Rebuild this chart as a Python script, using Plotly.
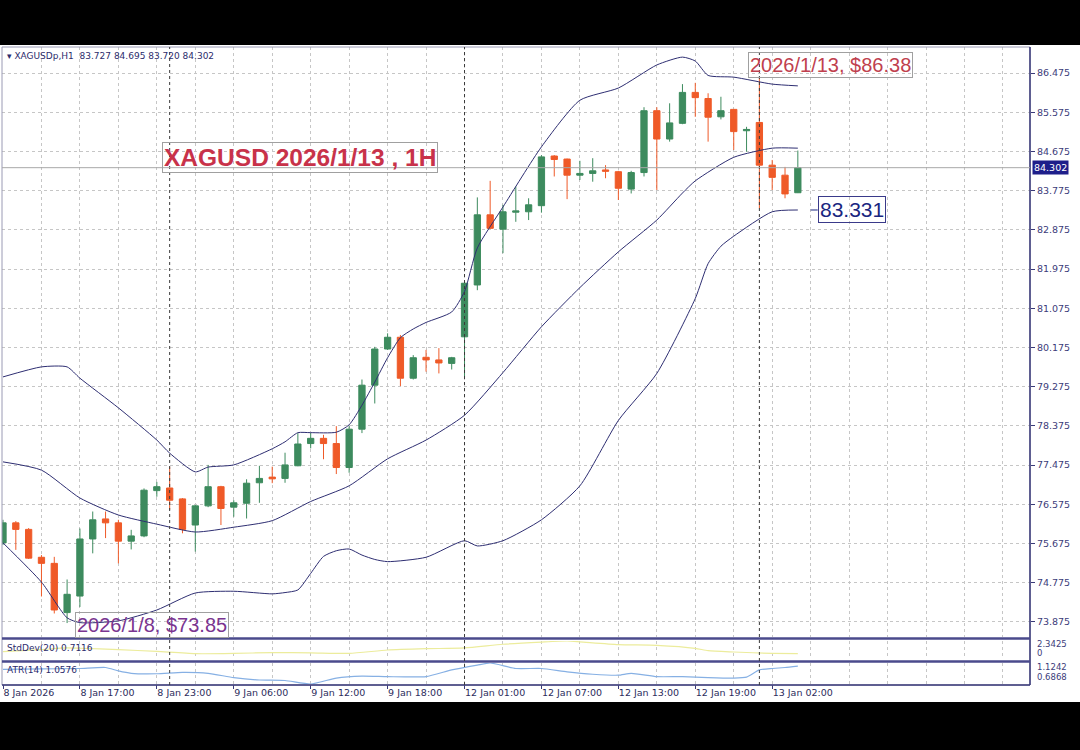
import plotly.graph_objects as go

# ---------------- data ----------------
bar_index = list(range(63))
open_ = [75.69, 76.15, 76.00, 75.36, 75.22, 74.09, 74.47, 75.78, 76.24, 76.15,
         75.73, 75.85, 76.89, 76.95, 76.70, 76.10, 76.54, 76.98, 76.51, 76.60,
         77.07, 77.20, 77.17, 77.46, 77.97, 78.09, 77.97, 77.42, 78.30, 79.31,
         80.14, 80.41, 79.47, 79.95, 79.89, 79.81, 80.42, 81.61, 83.22, 82.89,
         83.28, 83.29, 83.43, 84.57, 84.50, 84.13, 84.17, 84.25, 84.21, 83.81,
         84.19, 85.61, 84.96, 85.32, 86.03, 85.89, 85.47, 85.64, 85.15, 85.34,
         84.36, 84.13, 83.727]
high = [76.22, 76.19, 76.03, 75.41, 75.37, 74.85, 76.02, 76.41, 76.41, 76.22,
        75.99, 76.94, 77.09, 77.44, 76.72, 76.56, 77.48, 77.00, 76.67, 77.15,
        77.46, 77.44, 77.76, 78.21, 78.21, 78.17, 78.37, 78.37, 79.44, 80.19,
        80.50, 80.46, 80.00, 80.12, 80.16, 79.96, 81.66, 83.62, 84.00, 83.45,
        83.87, 83.60, 84.59, 84.59, 84.51, 84.46, 84.52, 84.36, 84.23, 84.23,
        85.69, 85.69, 85.78, 86.22, 86.25, 86.01, 85.93, 85.65, 85.24, 86.38,
        84.48, 84.32, 84.695]
low = [75.64, 75.53, 75.32, 74.46, 74.07, 73.85, 74.22, 75.45, 75.80, 75.22,
       75.54, 75.82, 76.75, 76.45, 75.91, 75.49, 76.51, 76.10, 76.29, 76.25,
       76.61, 77.06, 77.07, 77.45, 77.86, 77.61, 77.27, 77.30, 78.21, 78.89,
       80.12, 79.29, 79.44, 79.62, 79.58, 79.67, 79.50, 81.49, 82.90, 82.34,
       83.06, 83.10, 83.27, 84.10, 83.58, 84.02, 83.98, 84.06, 83.56, 83.71,
       84.10, 83.79, 84.90, 85.30, 85.47, 84.90, 85.41, 84.71, 84.67, 83.37,
       83.79, 83.60, 83.720]
close = [76.15, 76.00, 75.34, 75.22, 74.15, 74.51, 75.78, 76.22, 76.15, 75.73,
         75.85, 76.90, 76.98, 76.67, 76.00, 76.54, 76.98, 76.48, 76.61, 77.06,
         77.17, 77.16, 77.48, 77.96, 78.09, 77.97, 77.42, 78.30, 79.31, 80.14,
         80.41, 79.47, 79.94, 79.89, 79.82, 79.94, 81.65, 83.22, 82.91, 83.29,
         83.31, 83.45, 84.55, 84.49, 84.13, 84.17, 84.23, 84.22, 83.83, 84.19,
         85.61, 84.96, 85.33, 86.03, 85.91, 85.46, 85.61, 85.13, 85.18, 84.36,
         84.08, 83.70, 84.302]

upper_idx = [0, 3, 5, 6, 9, 12, 13, 15, 16, 18, 21, 22, 23, 24, 26, 27, 28, 29,
             30, 31, 32, 33, 35, 36, 37, 39, 42, 45, 48, 51, 53, 54, 55, 57, 60, 62]
upper_val = [79.50, 79.73, 79.73, 79.47, 78.79, 78.05, 77.75, 77.32, 77.43, 77.48,
             77.85, 78.01, 78.22, 78.22, 78.23, 78.40, 78.85, 79.38, 79.94, 80.40,
             80.60, 80.75, 80.99, 81.46, 82.46, 83.40, 84.78, 85.85, 86.13, 86.66,
             86.84, 86.75, 86.42, 86.38, 86.22, 86.18]
mid_idx = [0, 3, 6, 9, 12, 15, 18, 21, 24, 27, 30, 33, 36, 39, 42, 45, 48, 51,
           53, 54, 57, 60, 62]
mid_val = [77.55, 77.36, 76.72, 76.33, 76.12, 75.94, 76.05, 76.20, 76.64, 77.00,
           77.62, 78.05, 78.62, 79.60, 80.65, 81.55, 82.37, 83.10, 83.72, 84.00,
           84.54, 84.75, 84.75]
lower_idx = [0, 3, 5, 6, 9, 12, 15, 18, 21, 22, 23, 24, 25, 26, 27, 28, 29, 30,
             33, 36, 37, 39, 42, 45, 48, 51, 54, 55, 56, 57, 60, 62]
lower_val = [75.69, 74.79, 73.97, 73.86, 73.90, 74.15, 74.54, 74.58, 74.52, 74.55,
             74.61, 74.99, 75.38, 75.51, 75.55, 75.41, 75.31, 75.26, 75.36, 75.74,
             75.62, 75.74, 76.22, 77.00, 78.50, 79.58, 81.30, 82.10, 82.50, 82.73,
             83.29, 83.331]

std_idx = [0, 3, 5, 6, 9, 12, 15, 18, 21, 24, 27, 30, 33, 36, 39, 42, 44, 45, 48,
           51, 54, 55, 57, 60, 62]
std_val = [0.95, 1.23, 1.44, 1.40, 1.22, 0.98, 0.69, 0.72, 0.84, 0.81, 0.73, 1.17,
           1.34, 1.44, 1.92, 2.20, 2.3425, 2.24, 1.88, 1.78, 1.39, 1.08, 0.91, 0.73,
           0.7116]

atr_idx = [0, 3, 6, 8, 9, 10, 12, 14, 16, 18, 20, 22, 24, 26, 28, 30, 33, 35, 37,
           38, 40, 42, 44, 46, 48, 49, 51, 53, 55, 57, 58, 59, 60, 61, 62]
atr_val = [0.99, 1.00, 1.01, 1.03, 0.96, 0.91, 0.90, 0.93, 0.91, 0.82, 0.77, 0.76,
           0.6868, 0.81, 0.85, 0.84, 0.84, 0.98, 1.08, 1.1242, 1.01, 1.01, 0.94,
           0.89, 0.87, 0.91, 0.84, 0.84, 0.82, 0.81, 0.83, 0.98, 1.01, 1.03, 1.0576]

price_ticks = [73.875, 74.775, 75.675, 76.575, 77.475, 78.375, 79.275, 80.175,
               81.075, 81.975, 82.875, 83.775, 84.675, 85.575, 86.475]
time_tick_idx = [0, 6, 12, 18, 24, 30, 36, 42, 48, 54, 60]
time_tick_labels = ["8 Jan 2026", "8 Jan 17:00", "8 Jan 23:00", "9 Jan 06:00",
                    "9 Jan 12:00", "9 Jan 18:00", "12 Jan 01:00", "12 Jan 07:00",
                    "12 Jan 13:00", "12 Jan 19:00", "13 Jan 02:00"]
day_separator_idx = [13, 36, 59]
grid_idx = list(range(0, 81, 3))

last_price = 84.302
high_label_price = 86.38
low_label_price = 73.85
lower_band_last = 83.331

# ---------------- style ----------------
W, H = 1080, 750
BULL = "#3d8b5e"
BEAR = "#ef5a28"
BAND = "#2e2e72"
NAVY = "#3a3a78"
GRID = "#c6c6c6"
TXT_FONT = "DejaVu Sans"


def px(x):
    return x / W


def py(y):
    return 1 - y / H


fig = go.Figure()
fig.add_trace(go.Candlestick(
    x=bar_index, open=open_, high=high, low=low, close=close,
    increasing=dict(line=dict(color=BULL, width=1), fillcolor=BULL),
    decreasing=dict(line=dict(color=BEAR, width=1), fillcolor=BEAR),
    whiskerwidth=0, showlegend=False, hoverinfo="skip", xaxis="x", yaxis="y"))
for bi, bv in [(upper_idx, upper_val), (mid_idx, mid_val), (lower_idx, lower_val)]:
    fig.add_trace(go.Scatter(x=bi, y=bv, mode="lines",
                             line=dict(color=BAND, width=1, shape="spline", smoothing=0.6),
                             showlegend=False, hoverinfo="skip", xaxis="x", yaxis="y"))
fig.add_trace(go.Scatter(x=std_idx, y=std_val, mode="lines",
                         line=dict(color="#ecec9c", width=1.2, shape="spline", smoothing=0.6),
                         showlegend=False, hoverinfo="skip", xaxis="x2", yaxis="y2"))
fig.add_trace(go.Scatter(x=atr_idx, y=atr_val, mode="lines",
                         line=dict(color="#86b0e4", width=1.2, shape="spline", smoothing=0.5),
                         showlegend=False, hoverinfo="skip", xaxis="x3", yaxis="y3"))

XR = [(2 - 3) / 12.82, (1030 - 3) / 12.82]
xdom = [px(2), px(1030)]
gridx = dict(showgrid=True, gridcolor=GRID, griddash="3px,3px", gridwidth=1,
             zeroline=False, showline=False, automargin=False)

fig.update_layout(
    width=W, height=H, margin=dict(l=0, r=0, t=0, b=0),
    paper_bgcolor="white", plot_bgcolor="white", showlegend=False,
    font=dict(family=TXT_FONT, size=10, color=NAVY),
    xaxis=dict(domain=xdom, range=XR, anchor="y", tickmode="array", tickvals=grid_idx,
               showticklabels=False, ticks="", rangeslider=dict(visible=False), **gridx),
    xaxis2=dict(domain=xdom, range=XR, anchor="y2", matches="x", tickmode="array",
                tickvals=grid_idx, showticklabels=False, ticks="", **gridx),
    xaxis3=dict(domain=xdom, range=XR, anchor="y3", matches="x", tickmode="array",
                tickvals=time_tick_idx, ticktext=time_tick_labels, ticks="outside",
                ticklen=4, tickcolor=NAVY, ticklabelposition="outside right",
                tickfont=dict(family=TXT_FONT, size=9.5, color="#2c2c5c"),
                minor=dict(tickmode="array", tickvals=grid_idx, showgrid=True,
                           gridcolor=GRID, griddash="3px,3px", ticks=""),
                **gridx),
    yaxis=dict(domain=[py(637), py(47)], range=[73.530, 87.072], anchor="x", side="right",
               tickmode="array", tickvals=price_ticks, ticktext=[f"{v:.3f}" for v in price_ticks],
               ticks="outside", ticklen=4, tickcolor=NAVY,
               tickfont=dict(family=TXT_FONT, size=9.5, color="#3c3c7a"),
               showgrid=True, gridcolor=GRID, griddash="3px,3px", zeroline=False,
               showline=False, automargin=False),
    yaxis2=dict(domain=[py(659), py(641)], range=[0, 2.3425], anchor="x2",
                showticklabels=False, showgrid=False, zeroline=False, ticks="",
                automargin=False),
    yaxis3=dict(domain=[py(684), py(663)], range=[0.6868, 1.1242], anchor="x3",
                showticklabels=False, showgrid=False, zeroline=False, ticks="",
                automargin=False),
)

shapes = []
# black bands at top and bottom of the photo
shapes.append(dict(type="rect", xref="paper", yref="paper", x0=0, x1=1, y0=py(45), y1=1,
                   fillcolor="black", line=dict(width=0), layer="above"))
shapes.append(dict(type="rect", xref="paper", yref="paper", x0=0, x1=1, y0=0, y1=py(702),
                   fillcolor="black", line=dict(width=0), layer="above"))
# chart frame
shapes.append(dict(type="rect", xref="paper", yref="paper", x0=px(2), x1=px(1030),
                   y0=py(685), y1=py(47), line=dict(color="#9a9ab4", width=1)))
shapes.append(dict(type="line", xref="paper", yref="paper", x0=px(1030), x1=px(1030),
                   y0=py(685), y1=py(47), line=dict(color=NAVY, width=1.5)))
shapes.append(dict(type="line", xref="paper", yref="paper", x0=px(2), x1=px(1030),
                   y0=py(685), y1=py(685), line=dict(color=NAVY, width=1.5)))
for ysep in (638.5, 661.5):
    shapes.append(dict(type="line", xref="paper", yref="paper", x0=px(2), x1=px(1030),
                       y0=py(ysep), y1=py(ysep), line=dict(color="#4a4a8c", width=2.5)))
# day separators
for d in day_separator_idx:
    shapes.append(dict(type="line", xref="x", yref="paper", x0=d, x1=d,
                       y0=py(685), y1=py(47), line=dict(color="#3a3a3a", width=1, dash="3px,3px")))
# last price line
shapes.append(dict(type="line", xref="paper", yref="y", x0=px(2), x1=px(1030),
                   y0=last_price, y1=last_price, line=dict(color="#a8a8a8", width=1)))
# connector to lower band label
shapes.append(dict(type="line", xref="x", yref="y", x0=63.0, x1=63.55,
                   y0=lower_band_last, y1=lower_band_last, line=dict(color="#1a2680", width=1)))
fig.update_layout(shapes=shapes)

ann = []
small = dict(family=TXT_FONT, size=9, color="#2c2c6c")
ann.append(dict(xref="paper", yref="paper", x=px(5), y=py(56), xanchor="left", yanchor="middle",
                text="▾ XAGUSDp,H1  83.727 84.695 83.720 84.302", showarrow=False, font=small))
ann.append(dict(xref="paper", yref="paper", x=px(5), y=py(648), xanchor="left", yanchor="middle",
                text="StdDev(20) 0.7116", showarrow=False, font=small))
ann.append(dict(xref="paper", yref="paper", x=px(5), y=py(670), xanchor="left", yanchor="middle",
                text="ATR(14) 1.0576", showarrow=False, font=small))
for txt, yy in [("2.3425", 643.5), ("0", 652.5), ("1.1242", 667), ("0.6868", 677)]:
    ann.append(dict(xref="paper", yref="paper", x=px(1035), y=py(yy), xanchor="left",
                    yanchor="middle", text=txt, showarrow=False,
                    font=dict(family=TXT_FONT, size=8.5, color="#3c3c7a")))
ann.append(dict(xref="paper", yref="y", x=px(1032), y=last_price, xanchor="left", yanchor="middle",
                text="84.302", showarrow=False, bgcolor="#1e1e8a", borderpad=1,
                font=dict(family=TXT_FONT, size=9.5, color="white")))
ann.append(dict(xref="paper", yref="paper", x=px(162), y=py(157.5), xanchor="left",
                yanchor="middle", text="<b>XAGUSD 2026/1/13 , 1H</b>", showarrow=False,
                bordercolor="#a0a0a0", borderwidth=1, borderpad=1,
                font=dict(family="Liberation Sans", size=24.5, color="#c8324a")))
ann.append(dict(xref="x", yref="y", x=58.15, y=high_label_price - 0.02, xanchor="left",
                yanchor="bottom", text=f"2026/1/13, ${high_label_price:.2f}", showarrow=False,
                bordercolor="#a0a0a0", borderwidth=1, borderpad=1,
                font=dict(family="Liberation Sans", size=20, color="#c0404e")))
ann.append(dict(xref="x", yref="y", x=5.62, y=low_label_price - 0.045, xanchor="left",
                yanchor="middle", text=f"2026/1/8, ${low_label_price:.2f}", showarrow=False,
                bordercolor="#a0a0a0", borderwidth=1, borderpad=1,
                font=dict(family="Liberation Sans", size=20, color="#7a3590")))
ann.append(dict(xref="x", yref="y", x=63.57, y=lower_band_last, xanchor="left",
                yanchor="middle", text=f"{lower_band_last:.3f}", showarrow=False,
                bordercolor="#3a3a8a", borderwidth=1, borderpad=1,
                font=dict(family="Liberation Sans", size=21, color="#1a2680")))
fig.update_layout(annotations=ann)

fig.write_html(
    "out.html",
    config={"displayModeBar": False},
    post_script="document.body.style.margin='0px';document.body.style.padding='0px';"
                "document.documentElement.style.overflow='hidden';",
)
